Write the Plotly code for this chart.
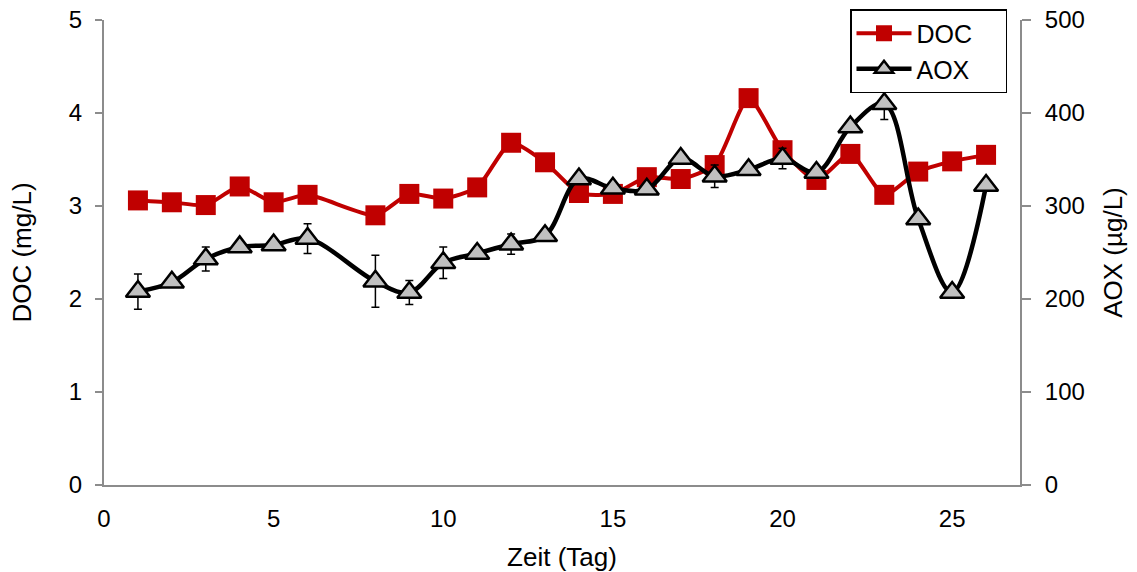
import plotly.graph_objects as go

days = [1, 2, 3, 4, 5, 6, 8, 9, 10, 11, 12, 13, 14, 15, 16, 17, 18, 19, 20, 21, 22, 23, 24, 25, 26]
doc = [3.06, 3.04, 3.01, 3.21, 3.04, 3.12, 2.90, 3.13, 3.08, 3.20, 3.68, 3.47, 3.14, 3.13, 3.31,
       3.29, 3.44, 4.16, 3.60, 3.28, 3.56, 3.12, 3.37, 3.48, 3.55]
aox = [208, 218, 243, 256, 258, 265, 219, 207, 239, 249, 259, 268, 329, 319, 318,
       351, 332, 339, 351, 336, 385, 410, 286, 207, 322]
aox_err = [19, 4, 13, 4, 4, 16, 28, 13, 17, 4, 11, 4, 4, 4, 4, 4, 12, 4, 11, 4, 4, 17, 4, 4, 4]

x_ticks = [0, 5, 10, 15, 20, 25]
FONT = "Liberation Sans, Arial, sans-serif"
AXIS_GRAY = "#8c8c8c"
PAD = "\u00a0\u00a0\u00a0\u00a0"

fig = go.Figure()
fig.add_trace(go.Scatter(
    x=days, y=doc, name="DOC" + PAD, mode="lines+markers",
    line=dict(color="#C00000", width=4, shape="spline", smoothing=0.6),
    marker=dict(symbol="square", size=20, color="#C00000"),
))
fig.add_trace(go.Scatter(
    x=days, y=aox, name="AOX" + PAD, yaxis="y2", mode="lines+markers",
    line=dict(color="black", width=4.5, shape="spline", smoothing=1),
    marker=dict(symbol="triangle-up", size=21, color="#C0C0C0",
                line=dict(color="black", width=2.5)),
    error_y=dict(type="data", array=aox_err, color="black", thickness=1.5, width=4),
))

fig.update_layout(
    width=1137, height=572, autosize=False,
    margin=dict(l=104, r=117, t=20, b=87, autoexpand=False),
    paper_bgcolor="white", plot_bgcolor="white",
    font=dict(family=FONT, size=24, color="black"),
    showlegend=True,
    legend=dict(
        x=(1007 - 104) / 916, xanchor="right",
        y=(485 - 9) / 465, yanchor="top",
        bordercolor="black", borderwidth=1.5, bgcolor="white",
        font=dict(family=FONT, size=25, color="black"),
        itemwidth=55, tracegroupgap=0,
    ),
    xaxis=dict(
        range=[0, 27], tickvals=x_ticks, ticks="", showgrid=False, zeroline=False,
        showline=True, linecolor=AXIS_GRAY, linewidth=2, automargin=False,
        tickfont=dict(size=24), ticklabelstandoff=11,
        title=dict(text="Zeit (Tag)", font=dict(size=26), standoff=20),
    ),
    yaxis=dict(
        range=[0, 5], dtick=1, ticks="outside", ticklen=7, tickwidth=2, tickcolor=AXIS_GRAY,
        showgrid=False, zeroline=False, showline=True, linecolor=AXIS_GRAY, linewidth=2,
        automargin=False,
        tickfont=dict(size=24), ticklabelstandoff=8,
        title=dict(text="DOC (mg/L)", font=dict(size=26), standoff=30),
    ),
    yaxis2=dict(
        overlaying="y", side="right", range=[0, 500], dtick=100,
        ticks="outside", ticklen=9, tickwidth=2, tickcolor=AXIS_GRAY,
        showgrid=False, zeroline=False, showline=True, linecolor=AXIS_GRAY, linewidth=2,
        automargin=False,
        tickfont=dict(size=24), ticklabelstandoff=9,
        title=dict(text="AOX (µg/L)", font=dict(size=26), standoff=20),
    ),
)

fig.write_html("out.html")
